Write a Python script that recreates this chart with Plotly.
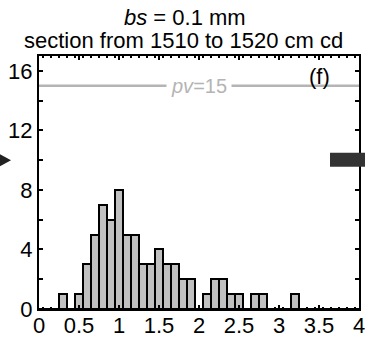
import plotly.graph_objects as go

# histogram: bin centers (width 0.1) and counts
measured = {0.3: 1, 0.5: 1, 0.6: 3, 0.7: 5, 0.8: 7, 0.9: 6, 1.0: 8, 1.1: 5, 1.2: 5,
            1.3: 3, 1.4: 3, 1.5: 4, 1.6: 3, 1.7: 3, 1.8: 2, 1.9: 2, 2.0: 0, 2.1: 1,
            2.2: 2, 2.3: 2, 2.4: 1, 2.5: 1, 2.6: 0, 2.7: 1, 2.8: 1, 2.9: 0, 3.0: 0,
            3.1: 0, 3.2: 1}
centers = [round(0.1 * i, 1) for i in range(0, 41)]
values = [measured.get(c, 0) for c in centers]

pv_value = 15
marker_level = 10
rect_start = 3.6
x_ticks = [0, 0.5, 1, 1.5, 2, 2.5, 3, 3.5, 4]
x_ticktext = ["0", "0.5", "1", "1.5", "2", "2.5", "3", "3.5", "4"]
y_ticks = [0, 4, 8, 12, 16]

FONT = "Liberation Sans, Arial, sans-serif"

fig = go.Figure()
fig.add_trace(go.Bar(
    x=centers, y=values, width=0.1,
    marker=dict(color="#c0c0c0", line=dict(color="black", width=2)),
    showlegend=False,
))

fig.add_trace(go.Scatter(
    x=[0, 4], y=[pv_value, pv_value], mode="lines",
    line=dict(color="#b4b4b4", width=2.5), showlegend=False, hoverinfo="skip",
))

W, H = 365, 339
ml, mr, mt, mb = 39, 6, 56, 30
pw = W - ml - mr

def px_to_paper_x(px):
    return (px - ml) / pw

shapes = [
    dict(type="rect", xref="paper", yref="y",
         x0=px_to_paper_x(330), x1=px_to_paper_x(366),
         y0=marker_level - 0.45, y1=marker_level + 0.5,
         fillcolor="#333333", line=dict(width=0), layer="above"),
    dict(type="path", xref="paper", yref="y",
         path=f"M {px_to_paper_x(0)},{marker_level + 0.4} L {px_to_paper_x(11)},{marker_level} "
              f"L {px_to_paper_x(0)},{marker_level - 0.4} Z",
         fillcolor="#222222", line=dict(width=0), layer="above"),
]

annotations = [
    dict(text="<i>bs</i> = 0.1 mm", xref="paper", yref="paper", x=0.455, y=1.152,
         showarrow=False, font=dict(family=FONT, size=22, color="black"),
         xanchor="center", yanchor="middle"),
    dict(text="section from 1510 to 1520 cm cd", xref="paper", yref="paper", x=0.45, y=1.063,
         showarrow=False, font=dict(family=FONT, size=22, color="black"),
         xanchor="center", yanchor="middle"),
    dict(text=f"<i>pv</i>={pv_value}", xref="x", yref="y", x=2, y=pv_value,
         showarrow=False, font=dict(family=FONT, size=20, color="#b4b4b4"),
         bgcolor="white", borderpad=4, xanchor="center", yanchor="middle"),
    dict(text="(f)", xref="x", yref="y", x=3.5, y=15.65,
         showarrow=False, font=dict(family=FONT, size=22, color="black"),
         xanchor="center", yanchor="middle"),
]

fig.update_layout(
    width=W, height=H,
    margin=dict(l=ml, r=mr, t=mt, b=mb, pad=0),
    paper_bgcolor="white", plot_bgcolor="white",
    bargap=0,
    shapes=shapes, annotations=annotations,
    font=dict(family=FONT, size=22, color="black"),
    xaxis=dict(range=[0, 4], tickvals=x_ticks, ticktext=x_ticktext,
               ticks="inside", ticklen=4, tickwidth=2, tickcolor="black",
               showline=True, linecolor="black", linewidth=2, mirror="ticks",
               showgrid=False, zeroline=False, ticklabeloverflow="allow",
               automargin=False, ticklabelstandoff=-4,
               tickfont=dict(family=FONT, size=22, color="black"),
               minor=dict(tick0=0.05, dtick=0.1, ticks="inside", ticklen=2,
                          tickwidth=1.5, tickcolor="black", showgrid=False)),
    yaxis=dict(range=[0, 17], tickvals=y_ticks,
               ticks="inside", ticklen=4, tickwidth=2, tickcolor="black",
               showline=True, linecolor="black", linewidth=2, mirror="ticks",
               showgrid=False, zeroline=False, automargin=False,
               tickfont=dict(family=FONT, size=22, color="black"),
               minor=dict(dtick=2, ticks="inside", ticklen=4, tickwidth=2,
                          tickcolor="black", showgrid=False)),
)

fig.write_html("out.html")
